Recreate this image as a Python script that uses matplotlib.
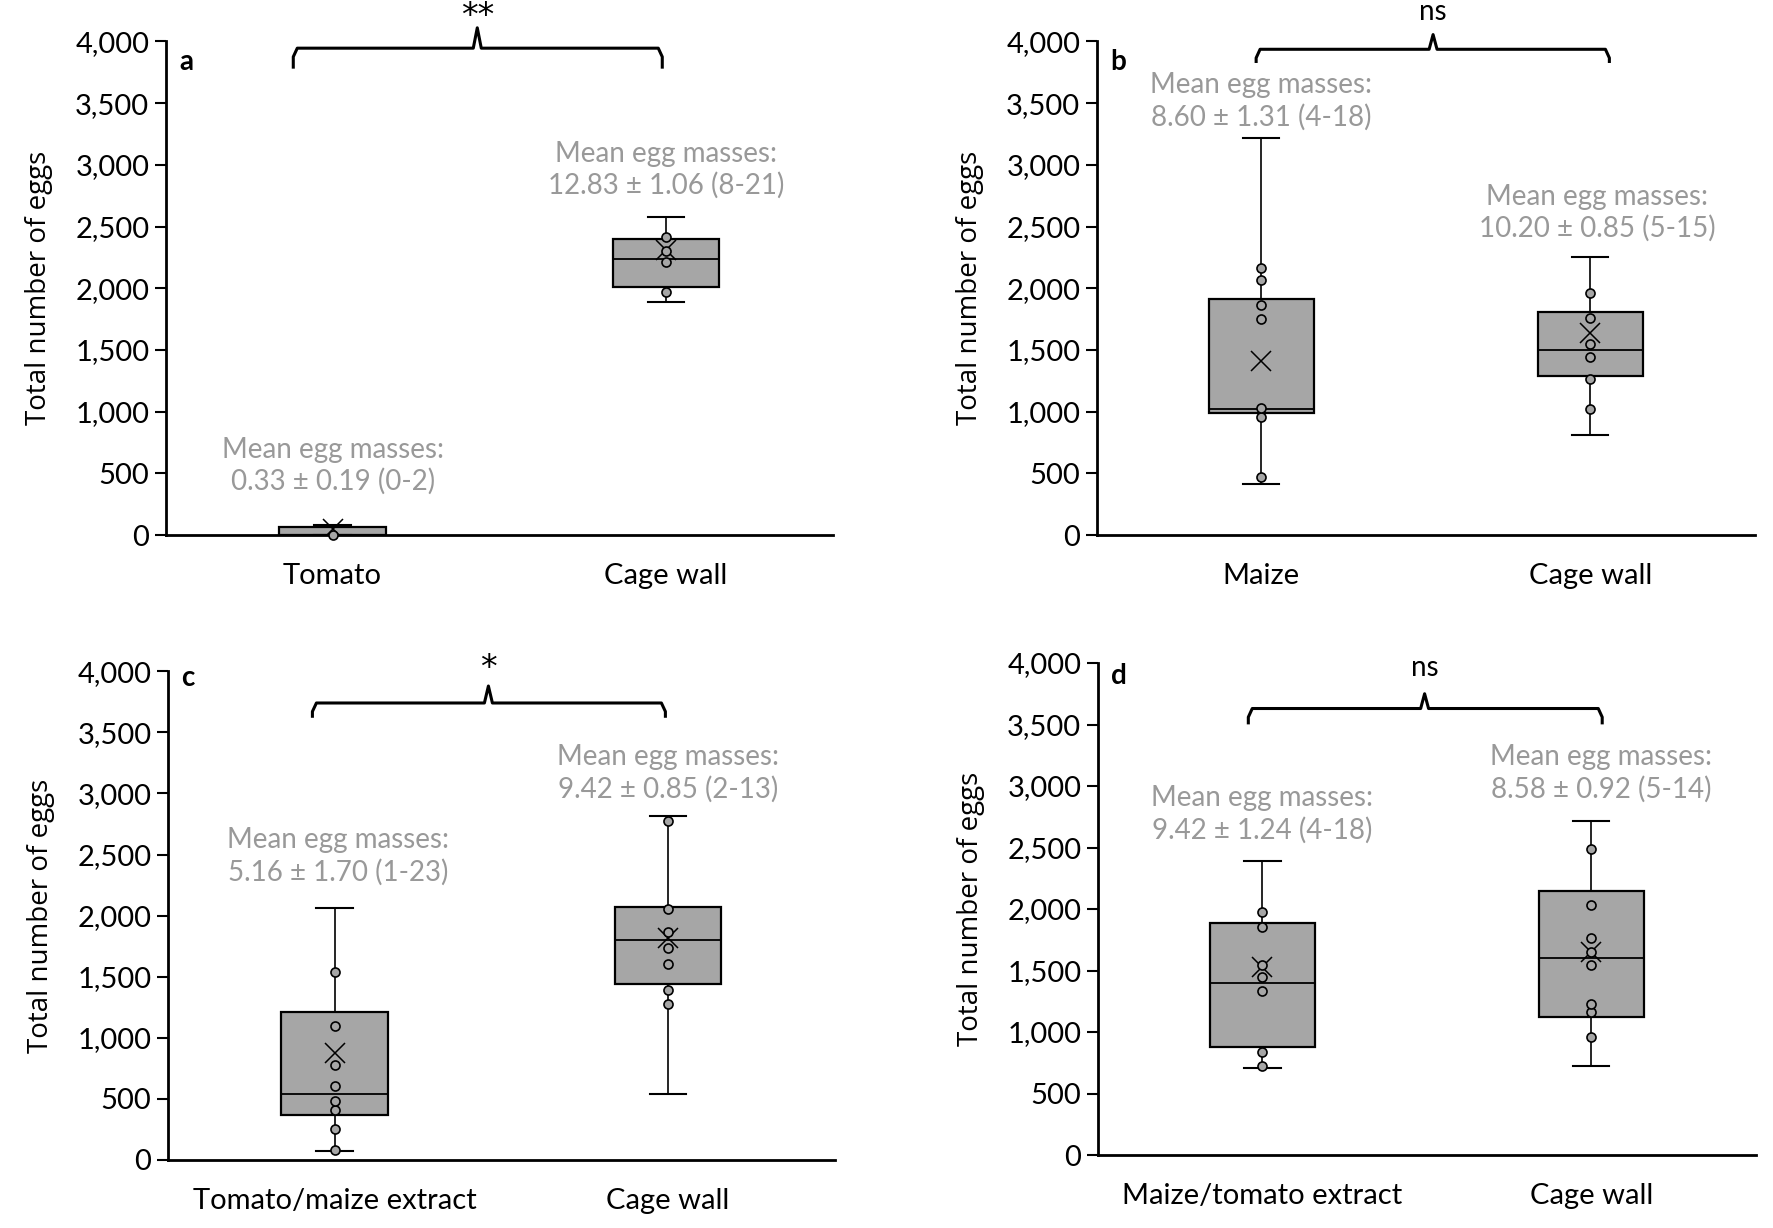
import numpy as np
import matplotlib.pyplot as plt
from matplotlib.ticker import FuncFormatter

plt.rcParams["font.family"] = ["Lato", "DejaVu Sans"]

# ---- data ----
panel_letters = ["a", "b", "c", "d"]
categories = [["Tomato", "Cage wall"],
              ["Maize", "Cage wall"],
              ["Tomato/maize extract", "Cage wall"],
              ["Maize/tomato extract", "Cage wall"]]

# box statistics per panel: (whisker low, Q1, median, Q3, whisker high, mean)
box_a = [(0, 0, 0, 62, 78, 50), (1888, 2008, 2237, 2399, 2573, 2310)]
box_b = [(413, 990, 1018, 1916, 3219, 1409), (808, 1290, 1496, 1809, 2253, 1640)]
box_c = [(71, 371, 541, 1207, 2060, 878), (541, 1442, 1797, 2069, 2819, 1813)]
box_d = [(705, 882, 1401, 1888, 2392, 1532), (720, 1124, 1600, 2147, 2716, 1650)]
boxes = [box_a, box_b, box_c, box_d]

# visible individual points
pts_a = [[0], [1972, 2212, 2302, 2419]]
pts_b = [[474, 960, 1032, 1754, 1866, 2064, 2164],
         [1025, 1262, 1443, 1549, 1757, 1963]]
pts_c = [[82, 255, 407, 486, 604, 775, 1093, 1536],
         [1277, 1387, 1604, 1731, 1863, 2055, 2778]]
pts_d = [[728, 837, 1334, 1448, 1543, 1856, 1973],
         [961, 1159, 1229, 1542, 1647, 1761, 2036, 2484]]
points = [pts_a, pts_b, pts_c, pts_d]

notes = [["0.33 ± 0.19 (0-2)", "12.83 ± 1.06 (8-21)"],
         ["8.60 ± 1.31 (4-18)", "10.20 ± 0.85 (5-15)"],
         ["5.16 ± 1.70 (1-23)", "9.42 ± 0.85 (2-13)"],
         ["9.42 ± 1.24 (4-18)", "8.58 ± 0.92 (5-14)"]]
signif = ["**", "ns", "*", "ns"]

# ---- layout / annotation placement ----
axes_pos = [[0.0936, 0.5643, 0.376, 0.402],
            [0.6187, 0.5643, 0.371, 0.402],
            [0.0948, 0.0554, 0.376, 0.398],
            [0.6193, 0.0594, 0.371, 0.4007]]
note_xy = [[(0.0, 561), (1.0, 2960)],
           [(0.0, 3513), (1.02, 2611)],
           [(0.01, 2487), (1.0, 3165)],
           [(0.0, 2771), (1.03, 3104)]]
# brace: x0, x1, xc, y of bar, y of ends, y of tip, y of sign
braces = [(-0.118, 0.989, 0.434, 3945, 3779, 4110, 4070),
          (-0.016, 1.058, 0.522, 3936, 3825, 4055, 4240),
          (-0.067, 0.992, 0.461, 3740, 3619, 3879, 3890),
          (-0.043, 1.033, 0.493, 3630, 3501, 3750, 3960)]
letter_y = [0.985, 0.985, 1.012, 1.0]

BOX_GREY = "#a6a6a6"
TEXT_GREY = "#999999"

fig = plt.figure(figsize=(17.73, 12.28), dpi=100)

for i in range(4):
    ax = fig.add_axes(axes_pos[i])
    stats = []
    for lo, q1, med, q3, hi, mean in boxes[i]:
        stats.append(dict(whislo=lo, q1=q1, med=med, q3=q3, whishi=hi,
                          mean=mean, fliers=[]))
    pos = [0, 1]
    ax.bxp(stats, positions=pos, widths=0.32, capwidths=0.11,
           patch_artist=True, showmeans=True, showfliers=False,
           boxprops=dict(facecolor=BOX_GREY, edgecolor="black", linewidth=1.6),
           medianprops=dict(color="black", linewidth=1.3),
           whiskerprops=dict(color="black", linewidth=1.2),
           capprops=dict(color="black", linewidth=1.5),
           meanprops=dict(marker="x", markeredgecolor="black", markersize=15,
                          markeredgewidth=1.1),
           zorder=2)
    for p, vals in zip(pos, points[i]):
        ax.plot([p] * len(vals), vals, "o", ms=6.5, mfc=BOX_GREY, mec="black",
                mew=1.2, zorder=3, clip_on=False)

    ax.set_xlim(-0.5, 1.5)
    ax.set_ylim(0, 4000)
    ax.set_yticks(np.arange(0, 4001, 500))
    ax.yaxis.set_major_formatter(FuncFormatter(lambda v, _: f"{int(v):,}"))
    ax.set_xticks(pos)
    ax.set_xticklabels(categories[i])
    ax.tick_params(axis="y", labelsize=21, length=8, width=1.5, pad=4)
    ax.tick_params(axis="x", labelsize=21, length=0, pad=20)
    for s in ["top", "right"]:
        ax.spines[s].set_visible(False)
    for s in ["left", "bottom"]:
        ax.spines[s].set_linewidth(2)
    ax.set_ylabel("Total number of eggs", fontsize=20, family=["Open Sans"],
                  labelpad=16)

    for (nx, ny), txt in zip(note_xy[i], notes[i]):
        ax.text(nx, ny, "Mean egg masses:\n" + txt, ha="center", va="center",
                color=TEXT_GREY, fontsize=20, linespacing=1.25)

    x0, x1, xc, yh, ye, yt, ys = braces[i]
    rx, ry = 0.012, 70
    bx = [x0, x0, x0 + rx, xc - rx, xc, xc + rx, x1 - rx, x1, x1]
    by = [ye, yh - ry, yh, yh, yt, yh, yh, yh - ry, ye]
    ax.plot(bx, by, color="black", lw=2.2, clip_on=False,
            solid_joinstyle="round", solid_capstyle="butt")
    if "*" in signif[i]:
        ax.text(xc, ys, signif[i], ha="center", va="bottom", fontsize=24,
                family=["DejaVu Sans"], clip_on=False)
    else:
        ax.text(xc, ys, signif[i], ha="center", va="center", fontsize=20,
                clip_on=False)

    ax.text(0.02, letter_y[i], panel_letters[i], transform=ax.transAxes,
            ha="left", va="top", fontsize=20, fontweight="bold")

fig.savefig("out.png", dpi=100)
